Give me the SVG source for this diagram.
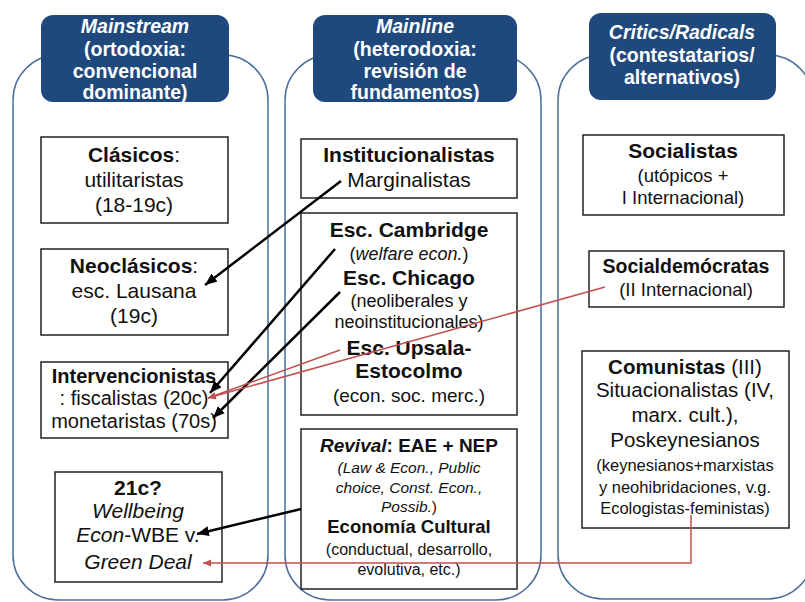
<svg xmlns="http://www.w3.org/2000/svg" width="805" height="602" viewBox="0 0 805 602">
<defs>
<style>
.col{fill:none;stroke:#4a6d9c;stroke-width:1.5}
.hdr{fill:#1f497d}
.ht{font-family:"Liberation Sans",Arial,sans-serif;font-size:19.5px;font-weight:bold;fill:#fff;text-anchor:middle}
.box{fill:#fff;stroke:#222;stroke-width:1.5}
.t{font-family:"Liberation Sans",Arial,sans-serif;fill:#111;text-anchor:middle}
.b{font-weight:bold}
.i{font-style:italic}
.blk{fill:none;stroke:#000;stroke-width:2.5}
.red{fill:none;stroke:#c0504d;stroke-width:1.5}
</style>
<marker id="ab" markerUnits="userSpaceOnUse" markerWidth="14" markerHeight="12" refX="12" refY="5" orient="auto">
<path d="M0,0 L12,5 L0,10 Z" fill="#000"/>
</marker>
<marker id="ar" markerUnits="userSpaceOnUse" markerWidth="10" markerHeight="10" refX="8" refY="3.5" orient="auto">
<path d="M0,0 L8,3.5 L0,7 Z" fill="#c0504d"/>
</marker>
</defs>
<rect width="805" height="602" fill="#fff"/>

<g id="col-mainstream">
<rect class="col" x="13" y="55" width="255" height="545" rx="45"/>
<rect class="hdr" x="41" y="15" width="188" height="87" rx="12"/>
<text class="ht" x="135" y="33" font-size="20.5"><tspan font-style="italic">Mainstream</tspan></text>
<text class="ht" x="135" y="56">(ortodoxia:</text>
<text class="ht" x="135" y="78">convencional</text>
<text class="ht" x="135" y="99">dominante)</text>
</g>
<g id="col-mainline">
<rect class="col" x="285" y="55" width="256" height="545" rx="45"/>
<rect class="hdr" x="313" y="15" width="204" height="87" rx="12"/>
<text class="ht" x="415" y="33"><tspan font-style="italic">Mainline</tspan></text>
<text class="ht" x="415" y="56">(heterodoxia:</text>
<text class="ht" x="415" y="78">revisión de</text>
<text class="ht" x="415" y="99">fundamentos)</text>
</g>
<g id="col-critics">
<rect class="col" x="558" y="55" width="255" height="544" rx="45"/>
<rect class="hdr" x="589" y="13" width="187" height="87" rx="12"/>
<text class="ht" x="682" y="39"><tspan font-style="italic">Critics/Radicals</tspan></text>
<text class="ht" x="682" y="62">(contestatarios/</text>
<text class="ht" x="682" y="84">alternativos)</text>
</g>

<g id="clasicos">
<rect class="box" x="41" y="137" width="187" height="86"/>
<text class="t" x="134" y="162" font-size="21"><tspan class="b">Clásicos</tspan>:</text>
<text class="t" x="134" y="187" font-size="21">utilitaristas</text>
<text class="t" x="134" y="212" font-size="21">(18-19c)</text>
</g>
<g id="neoclasicos">
<rect class="box" x="41" y="249" width="187" height="86"/>
<text class="t" x="134" y="273" font-size="21"><tspan class="b">Neoclásicos</tspan>:</text>
<text class="t" x="134" y="298" font-size="21">esc. Lausana</text>
<text class="t" x="134" y="323" font-size="21">(19c)</text>
</g>
<g id="intervencionistas">
<rect class="box" x="41" y="362" width="187" height="76"/>
<text class="t b" x="134" y="383" font-size="20">Intervencionistas</text>
<text class="t" x="134" y="405" font-size="20">: fiscalistas (20c)</text>
<text class="t" x="134" y="428" font-size="20">monetaristas (70s)</text>
</g>
<g id="siglo21">
<rect class="box" x="55" y="472" width="167" height="110"/>
<text class="t b" x="138" y="495" font-size="21">21c?</text>
<text class="t i" x="138" y="518" font-size="21">Wellbeing</text>
<text class="t" x="138" y="542" font-size="21"><tspan class="i">Econ</tspan>-WBE v.</text>
<text class="t i" x="138" y="569" font-size="21">Green Deal</text>
</g>

<g id="institucionalistas">
<rect class="box" x="301" y="139" width="216" height="59"/>
<text class="t b" x="409" y="162" font-size="21">Institucionalistas</text>
<text class="t" x="409" y="187" font-size="21">Marginalistas</text>
</g>
<g id="escuelas">
<rect class="box" x="301" y="213" width="216" height="202"/>
<text class="t b" x="409" y="237" font-size="21">Esc. Cambridge</text>
<text class="t" x="409" y="260" font-size="18">(<tspan class="i">welfare econ.</tspan>)</text>
<text class="t b" x="409" y="285" font-size="21">Esc. Chicago</text>
<text class="t" x="409" y="307" font-size="18">(neoliberales y</text>
<text class="t" x="409" y="328" font-size="18">neoinstitucionales)</text>
<text class="t b" x="409" y="355" font-size="21">Esc. Upsala-</text>
<text class="t b" x="409" y="378" font-size="21">Estocolmo</text>
<text class="t" x="409" y="402" font-size="19">(econ. soc. merc.)</text>
</g>
<g id="revival">
<rect class="box" x="301" y="429" width="216" height="160"/>
<text class="t b" x="409" y="452" font-size="19"><tspan class="i">Revival</tspan>: EAE + NEP</text>
<text class="t i" x="409" y="473" font-size="15.5">(Law &amp; Econ., Public</text>
<text class="t i" x="409" y="493" font-size="15.5">choice, Const. Econ.,</text>
<text class="t" x="409" y="512" font-size="15.5"><tspan class="i">Possib.</tspan>)</text>
<text class="t b" x="409" y="533" font-size="18.5">Economía Cultural</text>
<text class="t" x="409" y="555" font-size="16">(conductual, desarrollo,</text>
<text class="t" x="409" y="575" font-size="16">evolutiva, etc.)</text>
</g>

<g id="socialistas">
<rect class="box" x="583" y="135" width="201" height="80"/>
<text class="t b" x="683" y="158" font-size="21">Socialistas</text>
<text class="t" x="683" y="182" font-size="18.5">(utópicos +</text>
<text class="t" x="683" y="204" font-size="18.5">I Internacional)</text>
</g>
<g id="socialdemocratas">
<rect class="box" x="589" y="251" width="195" height="56"/>
<text class="t b" x="686" y="273" font-size="19.5">Socialdemócratas</text>
<text class="t" x="686" y="296" font-size="18.5">(II Internacional)</text>
</g>
<g id="comunistas">
<rect class="box" x="582" y="351" width="207" height="177"/>
<text class="t" x="685" y="374" font-size="20.5"><tspan class="b">Comunistas</tspan> (III)</text>
<text class="t" x="685" y="397" font-size="20.5">Situacionalistas (IV,</text>
<text class="t" x="685" y="422" font-size="20.5">marx. cult.),</text>
<text class="t" x="685" y="447" font-size="20.5">Poskeynesianos</text>
<text class="t" x="685" y="471" font-size="16.5">(keynesianos+marxistas</text>
<text class="t" x="685" y="493" font-size="16.5">y neohibridaciones, v.g.</text>
<text class="t" x="685" y="514" font-size="16.5">Ecologistas-feministas)</text>
</g>

<g id="connectors">
<line class="blk" x1="341" y1="181" x2="205" y2="285" marker-end="url(#ab)"/>
<line class="blk" x1="335" y1="249" x2="210" y2="393" marker-end="url(#ab)"/>
<line class="blk" x1="340" y1="292" x2="213" y2="418" marker-end="url(#ab)"/>
<line class="blk" x1="301" y1="509" x2="197" y2="534" marker-end="url(#ab)"/>
<line class="red" x1="605" y1="287" x2="208" y2="398" marker-end="url(#ar)"/>
<line class="red" x1="340" y1="350" x2="208" y2="398" marker-end="url(#ar)"/>
<polyline class="red" points="691,515 691,563 203,563" marker-end="url(#ar)"/>
</g>
</svg>
